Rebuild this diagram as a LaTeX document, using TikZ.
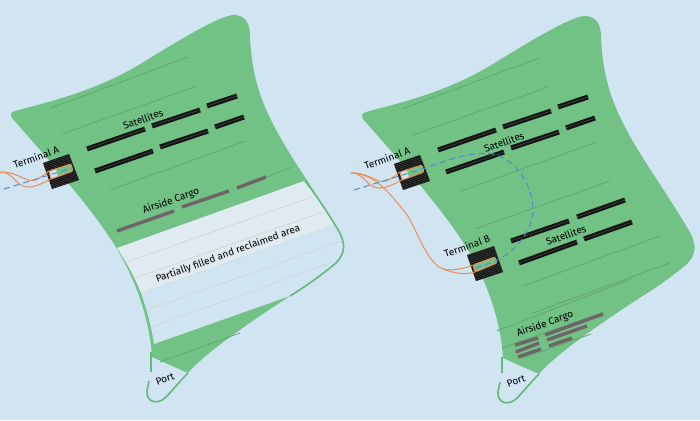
\documentclass[tikz,border=0pt]{standalone}
\usepackage{fontspec}
\usetikzlibrary{patterns.meta}
\setmainfont{Fira Sans}
\definecolor{seacol}{HTML}{D0E4F2}
\definecolor{landcol}{HTML}{72C185}
\definecolor{filledcol}{HTML}{DFEAF1}
\definecolor{bandcol}{HTML}{62BA76}
\definecolor{cargocol}{HTML}{6F6468}
\definecolor{routecol}{HTML}{F28C50}
\definecolor{jetcol}{HTML}{4A90D0}
\tikzset{
  place/.style={font=\fontsize{10}{12}\selectfont,rotate=20,inner sep=0pt,text=black},
  faint/.style={draw=black!14!landcol,line width=0.8pt},
  pale/.style={draw=black!18,line width=0.6pt},
  coast/.style={draw=bandcol,line width=1.6pt},
  pier/.style={draw=black!92,line width=2.3pt,double=black!65,double distance=0.35pt},
  cargo/.style={draw=cargocol,line width=3.4pt},
  route/.style={draw=routecol,line width=1pt},
  jet/.style={draw=jetcol,line width=1pt,dash pattern=on 6pt off 4pt},
  block/.style={preaction={fill=black!92},pattern={Lines[angle=19,distance=1.7pt,line width=0.3pt]},pattern color=black!68},
  slot/.style={draw=routecol,line width=1pt,rounded corners=2pt},
}
% land of one plan, used on both sides
\newcommand{\islandland}{
  (12,118) .. controls (9,112) and (12,112) .. (22,109)
  .. controls (70,97) and (110,84) .. (150,58)
  .. controls (180,40) and (222,14) .. (235,15)
  .. controls (246,16) and (250,24) .. (250,36)
  .. controls (252,85) and (265,115) .. (297,165)
  .. controls (310,185) and (325,208) .. (337,228)
  .. controls (346,243) and (346,252) .. (336,263)
  .. controls (318,278) and (300,290) .. (290,296)
  .. controls (250,322) and (205,353) .. (188,373)
  -- (152,357)
  .. controls (150,320) and (135,275) .. (110,238)
  .. controls (85,200) and (40,150) .. (12,118) -- cycle
}
\newcommand{\porttail}{
  (188,373) .. controls (180,381) and (172,391) .. (165,398)
  .. controls (157,405) and (146,402) .. (147,391) -- (149,381)
}
\begin{document}
\begin{tikzpicture}[x=1pt,y=-1pt]
\useasboundingbox (0,0) rectangle (700,420);
\fill[seacol] (0,0) rectangle (700,420);

% left plan
\fill[landcol] \islandland;
\fill[filledcol] (117,248) -- (304,181) .. controls (316,192) and (326,210) .. (334,225) -- (141,293)
  .. controls (135,278) and (127,263) .. (117,248) -- cycle;
\fill[seacol] (141,293) -- (334,225) -- (337,228) .. controls (346,243) and (346,252) .. (336,263)
  .. controls (318,278) and (300,290) .. (290,296) -- (154,344)
  .. controls (152,330) and (147,310) .. (141,293) -- cycle;
\draw[coast] (305,181) .. controls (316,195) and (326,210) .. (337,228)
  .. controls (346,243) and (346,252) .. (336,263)
  .. controls (318,278) and (300,290) .. (290,296);
\draw[coast] \porttail;
\draw[coast] (151,372) -- (151,352);
\foreach \xa/\ya/\xb/\yb in {51/108/188/57,62/134/197/86,110/190/246/141,267/177/292/167,160/362/240/333}
  \draw[faint] (\xa,\ya) -- (\xb,\yb);
\foreach \xa/\ya/\xb/\yb in {127/262/312/197,135/278/323/212,147/310/342/241,152/327/333/262}
  \draw[pale] (\xa,\ya) -- (\xb,\yb);
\foreach \xa/\ya/\xb/\yb in {87/149/145/129,152/126/200/110,207/106/237/96,95/171/153/151,160/147/208/131,215/127/244/117}
  \draw[pier] (\xa,\ya) -- (\xb,\yb);
\foreach \xa/\ya/\xb/\yb in {182/207/229/191,237/188/266/177,117/231/174/211}
  \draw[cargo] (\xa,\ya) -- (\xb,\yb);
\fill[block] (43,163) -- (69,154) -- (79,180) -- (52,189) -- cycle;
\fill[landcol] (49,171) -- (71,164) -- (73,171) -- (51,179) -- cycle;
\fill[seacol] (49,171) -- (56,169) -- (58,176.5) -- (51,179) -- cycle;
\draw[slot] (49,171) -- (71,164) -- (73,171) -- (51,179) -- cycle;
\coordinate (seaA) at (0,172);
\coordinate (gateA) at (49,171);
\coordinate (gateAb) at (51,179);
\draw[route] (seaA) .. controls (20,172) and (25,183) .. (35,180) .. controls (40,178) and (44,175) .. (gateA);
\draw[route] (seaA) .. controls (15,172) and (15,188) .. (30,187) .. controls (38,186) and (45,182) .. (gateAb);
\coordinate (farA) at (4,189);
\coordinate (endA) at (72,168);
\draw[jet] (farA) -- (endA);
\node[place] (termA) at (36,157) {Terminal A};
\node[place] (satA) at (143,119) {Satellites};
\node[place] (cargoA) at (171,201) {Airside Cargo};
\node[place] (fillA) at (228,254) {Partially filled and reclaimed area};
\node[place] (portA) at (165,379) {Port};

% right plan
\begin{scope}[xshift=351pt,yshift=-1pt]
\fill[landcol] \islandland;
\draw[coast] \porttail;
\draw[coast] (151,372) -- (151,356);
\foreach \xa/\ya/\xb/\yb in {51/108/188/57,62/134/197/86,110/190/246/141,124/228/259/180,172/285/309/235,182/312/319/262,146/330/280/278,151/347/250/312,172/357/240/333}
  \draw[faint] (\xa,\ya) -- (\xb,\yb);
\foreach \xa/\ya/\xb/\yb in {87/149/145/129,152/126/200/110,207/106/237/96,95/171/153/151,160/147/208/131,215/127/244/117,160/240/218/220,226/216/274/199,168/262/226/241,233/238/281/221}
  \draw[pier] (\xa,\ya) -- (\xb,\yb);
\foreach \xa/\ya/\xb/\yb in {194/334/252/313,196/339/236/325,198/345/221/337,164/344/187/337,165/351/188/342,167/356/190/348}
  \draw[cargo] (\xa,\ya) -- (\xb,\yb);
\fill[block] (43,163) -- (69,154) -- (79,180) -- (52,189) -- cycle;
\fill[landcol] (49,171) -- (71,164) -- (73,171) -- (51,179) -- cycle;
\fill[seacol] (49,171) -- (56,169) -- (58,176.5) -- (51,179) -- cycle;
\draw[slot] (49,171) -- (71,164) -- (73,171) -- (51,179) -- cycle;
\fill[block] (116,254) -- (143,245) -- (152,271) -- (125,280) -- cycle;
\fill[landcol] (122,264) -- (144,256) -- (146,262) -- (124,271) -- cycle;
\draw[slot] (122,264) -- (144,256) -- (146,262) -- (124,271) -- cycle;
\coordinate (seaB) at (0,172);
\coordinate (gateB) at (49,171);
\coordinate (gateBb) at (51,179);
\draw[route] (seaB) .. controls (20,172) and (25,183) .. (35,180) .. controls (40,178) and (44,175) .. (gateB);
\draw[route] (seaB) .. controls (15,172) and (15,188) .. (30,187) .. controls (38,186) and (45,182) .. (gateBb);
\coordinate (gateC) at (122,264);
\coordinate (gateD) at (124,271);
\draw[route] (seaB) .. controls (25,172) and (40,195) .. (54,211)
  .. controls (65,225) and (75,262) .. (92,268) .. controls (102,270) and (112,268) .. (gateC);
\draw[route] (92,268) .. controls (100,271) and (112,275) .. (gateD);
\coordinate (farB) at (3,189);
\coordinate (endB) at (122,268);
\draw[jet] (farB) -- (71,168) .. controls (90,162) and (115,150) .. (142,153)
  .. controls (165,158) and (183,185) .. (182,212)
  .. controls (180,230) and (165,252) .. (142,261) -- (endB);
\node[place] (termC) at (36,157) {Terminal A};
\node[place] (satB) at (153,141) {Satellites};
\node[place] (termB) at (116,245) {Terminal B};
\node[place] (satC) at (215,234) {Satellites};
\node[place] (cargoB) at (194,323) {Airside Cargo};
\node[place] (portB) at (165,380) {Port};
\end{scope}
\end{tikzpicture}
\end{document}
